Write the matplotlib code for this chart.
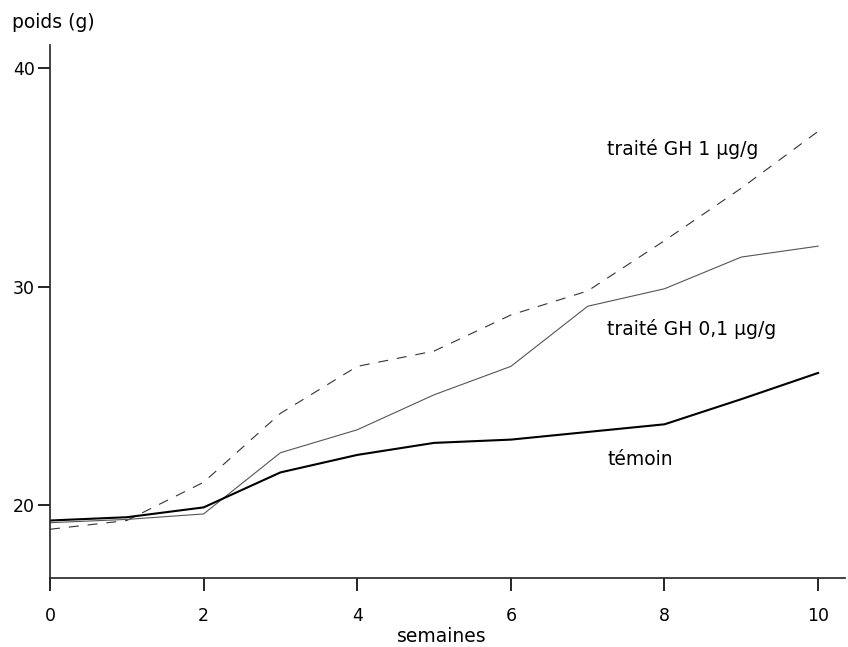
import numpy as np
import matplotlib
matplotlib.use("Agg")
import matplotlib.pyplot as plt

plt.rcParams['font.family'] = ['DejaVu Sans']

semaines = [0, 1, 2, 3, 4, 5, 6, 7, 8, 9, 10]
temoin = [19.3, 19.45, 19.9, 21.5, 22.3, 22.85, 23.0, 23.35, 23.7, 24.85, 26.05]
gh_01 = [19.2, 19.35, 19.6, 22.4, 23.45, 25.05, 26.35, 29.1, 29.9, 31.35, 31.85]
gh_1 = [18.9, 19.3, 21.05, 24.2, 26.35, 27.05, 28.7, 29.8, 32.1, 34.5, 37.1]

W, H = 848, 647
fig = plt.figure(figsize=(W/100, H/100), dpi=100)
ax = fig.add_axes([50/W, (H-578)/H, (845-50)/W, (578-45)/H])

ax.plot(semaines, gh_1, color='#333333', lw=0.8, dashes=(9, 8))
ax.plot(semaines, gh_01, color='#555555', lw=0.8)
ax.plot(semaines, temoin, color='black', lw=1.5)

ax.set_xlim(0, 10.35)
ax.set_ylim(16.67, 41.05)
ax.set_xticks([0, 2, 4, 6, 8, 10])
ax.set_yticks([20, 30, 40])
ax.spines['top'].set_visible(False)
ax.spines['right'].set_visible(False)
for s in ('left', 'bottom'):
    ax.spines[s].set_color('#222222')
    ax.spines[s].set_linewidth(1.2)
ax.tick_params(axis='y', direction='out', length=9, width=1.2, pad=2, labelsize=12.5)
ax.tick_params(axis='x', direction='out', length=9, width=1.2, pad=12, labelsize=12.5)

# curve labels, placed in pixels (baseline)
def label(xpx, ypx, s):
    fig.text(xpx/W, 1 - ypx/H, s, fontsize=13.5, va='baseline', ha='left')

label(607, 155, 'traité GH 1 µg/g')
label(607, 335, 'traité GH 0,1 µg/g')
label(608, 465, 'témoin')
label(12, 28, 'poids (g)')
fig.text(442/W, 1 - 642/H, 'semaines', fontsize=13.5, va='baseline', ha='center')

fig.savefig('out.png', dpi=100)
